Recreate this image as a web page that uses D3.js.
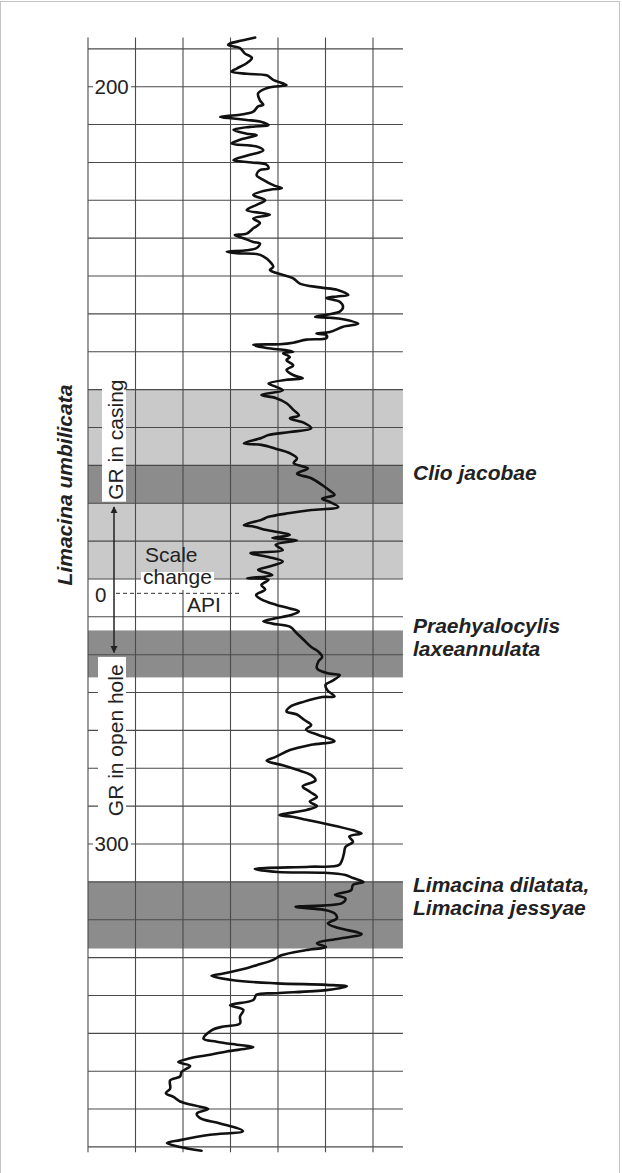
<!DOCTYPE html>
<html>
<head>
<meta charset="utf-8">
<script src="https://cdn.jsdelivr.net/npm/d3@7"></script>
<style>
  body { margin: 0; background: #fff; }
  text { font-family: "Liberation Sans", Arial, Helvetica, sans-serif; fill: #222; }
  .taxon { font-weight: bold; font-style: italic; }
</style>
</head>
<body>
<div id="chart"></div>
<script>
// gamma-ray log: depth (down the hole) and GR reading (grid units, 10 per column)
var depth = [
  193.5,193.9,194.3,194.5,194.9,195.6,196.2,196.9,197.6,198.0,
  198.3,198.5,199.1,199.8,200.0,200.2,200.9,201.8,202.4,202.6,
  203.3,203.7,204.0,204.2,204.4,204.6,205.1,205.3,205.7,206.2,
  206.4,207.0,207.5,207.9,208.4,209.0,209.7,210.0,210.3,210.8,
  211.0,211.7,212.3,213.0,213.4,213.6,214.3,
  215.0,215.6,216.3,216.9,217.4,218.0,218.7,219.4,219.6,220.0,
  220.5,220.7,221.3,221.6,221.8,222.0,222.1,222.4,223.1,223.8,
  224.2,224.6,225.3,226.0,226.5,226.8,227.1,227.5,227.7,227.9,
  228.4,229.1,229.7,230.1,230.4,230.5,230.7,231.3,231.7,232.4,
  232.6,232.8,233.2,233.4,233.8,234.0,234.1,234.5,234.8,235.0,
  235.2,235.7,236.1,236.8,
  237.4,238.1,238.5,238.7,239.2,239.6,240.1,240.7,241.1,241.8,
  242.7,243.4,243.8,244.4,245.1,245.6,246.0,246.4,247.1,247.3,
  247.8,248.4,249.1,249.7,250.4,251.1,251.7,252.6,253.3,253.9,
  254.4,254.8,255.5,255.9,256.3,256.8,257.2,257.9,258.1,258.5,
  259.2,259.6,259.9,260.5,261.2,261.6,262.1,262.7,263.4,263.8,
  264.5,264.9,
  265.1,265.8,266.4,267.1,267.7,268.4,268.9,269.3,269.8,270.2,
  270.6,270.9,271.3,272.2,273.1,274.0,274.6,275.3,275.9,276.8,
  277.5,277.7,278.4,279.0,279.7,280.5,280.6,281.2,281.9,282.5,
  282.9,283.6,284.3,284.9,285.6,286.4,286.9,287.6,288.5,289.0,
  289.6,290.2,290.9,
  291.6,292.4,293.1,293.8,294.4,295.0,295.5,296.2,296.4,296.8,
  297.3,298.2,298.6,299.0,299.7,300.4,301.2,302.1,302.8,303.0,
  303.3,303.7,303.8,304.1,304.5,305.0,305.4,306.1,306.7,307.2,
  307.8,308.3,308.7,309.2,309.8,310.5,311.1,311.9,312.5,313.1,
  313.6,314.0,314.7,
  315.3,316.0,316.4,317.1,317.4,318.0,318.4,318.6,318.8,319.3,
  319.7,319.9,320.6,321.3,321.9,322.8,323.7,324.1,324.6,325.7,
  326.1,326.5,326.8,327.4,327.9,328.3,328.8,329.3,330.1,330.7,
  331.2,332.3,332.9,333.4,334.0,334.7,335.0,335.6,336.2,336.9,
  337.9,338.4,339.1,339.5,340.0,340.5
];
var gr = [
  35.2,32.4,29.9,29.5,32.0,33.0,34.5,33.4,31.3,30.2,
  33.4,37.6,39.0,41.8,39.0,37.6,35.8,36.2,36.9,35.8,
  34.8,32.0,27.8,30.6,33.4,36.2,38.0,34.1,30.6,33.4,
  35.5,32.0,30.2,35.5,36.9,34.1,30.6,34.5,37.6,38.0,
  36.2,35.5,36.9,39.0,40.8,38.3,34.8,
  37.3,35.5,33.4,38.3,34.8,36.2,34.8,33.4,30.9,32.7,
  34.8,36.2,35.5,33.4,29.2,31.3,35.5,36.9,38.3,39.0,
  38.3,39.7,43.2,44.6,48.8,52.4,53.7,54.8,52.4,50.2,
  53.0,53.7,53.0,50.2,47.8,50.9,53.7,56.9,53.7,50.9,
  48.1,50.2,50.2,46.0,43.2,40.4,34.8,37.6,41.8,43.2,
  41.1,42.5,41.8,43.2,
  41.8,43.3,45.2,41.8,38.0,39.5,41.0,36.5,39.5,41.8,
  43.3,44.4,42.5,45.5,47.0,42.5,38.0,36.5,32.8,36.5,
  39.5,42.5,44.0,43.3,46.3,44.0,47.0,49.3,50.8,51.9,
  49.3,50.8,52.7,47.0,42.5,38.0,36.5,32.8,35.0,37.3,
  42.5,38.8,44.0,39.5,41.0,34.2,38.0,41.0,38.0,35.8,
  38.8,33.5,
  38.0,36.5,37.3,35.4,36.5,39.5,42.5,44.4,42.5,39.5,
  36.9,38.8,42.5,44.0,45.5,47.0,48.5,49.3,48.5,48.2,
  50.8,53.0,51.6,50.0,50.4,51.9,49.3,45.5,42.5,41.8,
  44.0,45.5,47.0,45.9,48.5,51.9,47.0,42.5,39.5,37.6,
  41.0,44.0,47.0,
  47.9,45.2,46.7,48.2,46.7,48.2,46.0,40.3,43.0,46.0,
  49.7,55.8,57.6,55.0,55.8,54.2,53.9,53.5,52.8,46.7,
  35.1,40.0,49.7,54.2,55.8,58.0,55.8,55.4,52.0,54.2,
  53.5,43.7,49.7,52.0,52.4,50.5,52.8,57.6,52.8,48.2,
  50.1,46.0,40.7,
  39.0,35.5,33.4,28.5,26.0,30.6,39.7,50.2,54.5,50.2,
  39.7,35.5,34.8,29.9,32.7,32.0,32.0,28.5,26.0,24.3,
  27.1,31.3,34.8,29.2,25.0,21.5,19.0,21.5,19.7,19.4,
  17.3,17.3,16.4,18.0,19.4,23.6,25.3,22.9,23.6,27.8,
  32.6,25.7,19.4,16.6,19.4,23.9
];

// shaded intervals (depth top / bottom), light = casing interval, dark = taxon levels
var bandTop    = [240, 250, 271.8, 305];
var bandBottom = [265, 255, 278,   313.8];
var bandKind   = ["light", "dark", "dark", "dark"];

// depth labels
var depthTicks = [200, 300];

// taxon names on the right (one array per label, lines of text)
var taxa = [
  ["Clio jacobae"],
  ["Praehyalocylis", "laxeannulata"],
  ["Limacina dilatata,", "Limacina jessyae"]
];
var taxaDepth = [252.0, 272.2, 306.4];

var svgWidth = 622;
var svgHeight = 1173;

var svg = d3.select("#chart")
    .append("svg")
    .attr("width", svgWidth)
    .attr("height", svgHeight);

// thin frame round the figure
svg.append("rect")
    .attr("x", 0.5).attr("y", 1.5)
    .attr("width", svgWidth - 3).attr("height", svgHeight + 4)
    .attr("fill", "none")
    .attr("stroke", "#c4c4c4");

// scales: depth goes down the page, GR goes left to right
var y = d3.scaleLinear().domain([200, 300]).range([86.7, 844]);
var x = d3.scaleLinear().domain([0, 60]).range([88, 373]);
var xMax = 66.3;
var topDepth = 193.5, bottomDepth = 340.7;

// bands
svg.append("g").selectAll("rect")
    .data(bandTop)
    .enter()
    .append("rect")
    .attr("x", x(0))
    .attr("width", x(xMax) - x(0))
    .attr("y", d => y(d))
    .attr("height", (d, i) => y(bandBottom[i]) - y(d))
    .attr("fill", (d, i) => bandKind[i] === "light" ? "#c9c9c9" : "#8c8c8c");

// grid
var grid = svg.append("g").attr("stroke", "#4a4a4a").attr("stroke-width", 1.1);
grid.selectAll("line.v")
    .data(d3.range(0, 61, 10))
    .enter()
    .append("line")
    .attr("class", "v")
    .attr("x1", d => x(d)).attr("x2", d => x(d))
    .attr("y1", y(topDepth)).attr("y2", y(bottomDepth));
grid.selectAll("line.h")
    .data(d3.range(195, 341, 5))
    .enter()
    .append("line")
    .attr("class", "h")
    .attr("x1", x(0)).attr("x2", x(xMax))
    .attr("y1", d => y(d)).attr("y2", d => y(d));

// depth labels with white boxes over the grid
var tickG = svg.append("g").selectAll("g")
    .data(depthTicks)
    .enter()
    .append("g")
    .attr("transform", d => `translate(0, ${y(d)})`);
tickG.append("rect")
    .attr("x", 93).attr("y", -9).attr("width", 38).attr("height", 18)
    .attr("fill", "#fff");
tickG.append("text")
    .attr("x", 94.5)
    .attr("y", 7.3)
    .attr("font-size", 20.5)
    .text(d => d);

// casing / open hole annotation
var ann = svg.append("g");
ann.append("rect").attr("x", 102).attr("y", 373).attr("width", 24).attr("height", y(254.8) - 373).attr("fill", "#fff");
ann.append("rect").attr("x", 98).attr("y", y(275.3)).attr("width", 28).attr("height", 822 - y(275.3)).attr("fill", "#fff");
ann.append("rect").attr("x", 141).attr("y", 572).attr("width", 73).attr("height", 18).attr("fill", "#fff");
ann.append("rect").attr("x", 185).attr("y", 596).attr("width", 38).attr("height", 18).attr("fill", "#fff");

ann.append("text")
    .attr("transform", `translate(123, ${y(246.6)}) rotate(-90)`)
    .attr("text-anchor", "middle")
    .attr("font-size", 21)
    .text("GR in casing");
ann.append("text")
    .attr("transform", `translate(122.5, ${y(286.3)}) rotate(-90)`)
    .attr("text-anchor", "middle")
    .attr("font-size", 21)
    .text("GR in open hole");

// double arrow for the scale change
var defs = svg.append("defs");
defs.append("marker")
    .attr("id", "head")
    .attr("viewBox", "0 0 10 10")
    .attr("refX", 9).attr("refY", 5)
    .attr("markerWidth", 7).attr("markerHeight", 8)
    .attr("markerUnits", "userSpaceOnUse")
    .attr("orient", "auto-start-reverse")
    .append("path")
    .attr("d", "M0,0 L10,5 L0,10 Z")
    .attr("fill", "#222");
ann.append("line")
    .attr("x1", 114).attr("x2", 114)
    .attr("y1", y(255.5)).attr("y2", y(274.7))
    .attr("stroke", "#222").attr("stroke-width", 1.5)
    .attr("marker-start", "url(#head)")
    .attr("marker-end", "url(#head)");

ann.append("text").attr("x", 145).attr("y", 562).attr("font-size", 21).text("Scale");
ann.append("text").attr("x", 143).attr("y", 584).attr("font-size", 21).text("change");
ann.append("text").attr("x", 95).attr("y", 601.5).attr("font-size", 20.5).text("0");
ann.append("text").attr("x", 187).attr("y", 612).attr("font-size", 21).text("API");
ann.append("line")
    .attr("x1", 116).attr("x2", 239)
    .attr("y1", y(266.9)).attr("y2", y(266.9))
    .attr("stroke", "#333").attr("stroke-width", 1)
    .attr("stroke-dasharray", "4,3");

// zone name on the left
svg.append("text")
    .attr("class", "taxon")
    .attr("transform", `translate(72, ${y(252.6)}) rotate(-90)`)
    .attr("text-anchor", "middle")
    .attr("font-size", 21)
    .text("Limacina umbilicata");

// taxon names on the right
var taxaG = svg.append("g").selectAll("text")
    .data(taxa)
    .enter()
    .append("text")
    .attr("class", "taxon")
    .attr("font-size", 21)
    .attr("x", 413)
    .attr("y", (d, i) => y(taxaDepth[i]));
taxaG.selectAll("tspan")
    .data(d => d)
    .enter()
    .append("tspan")
    .attr("x", 413)
    .attr("dy", (d, i) => i === 0 ? 0 : 22.5)
    .text(d => d);

// the log curve
var line = d3.line()
    .x((d, i) => x(gr[i]))
    .y(d => y(d))
    .curve(d3.curveCatmullRom.alpha(0.5));

svg.append("path")
    .datum(depth)
    .attr("d", line)
    .attr("fill", "none")
    .attr("stroke", "#111")
    .attr("stroke-width", 2.6)
    .attr("stroke-linejoin", "round")
    .attr("stroke-linecap", "round");
</script>
</body>
</html>
